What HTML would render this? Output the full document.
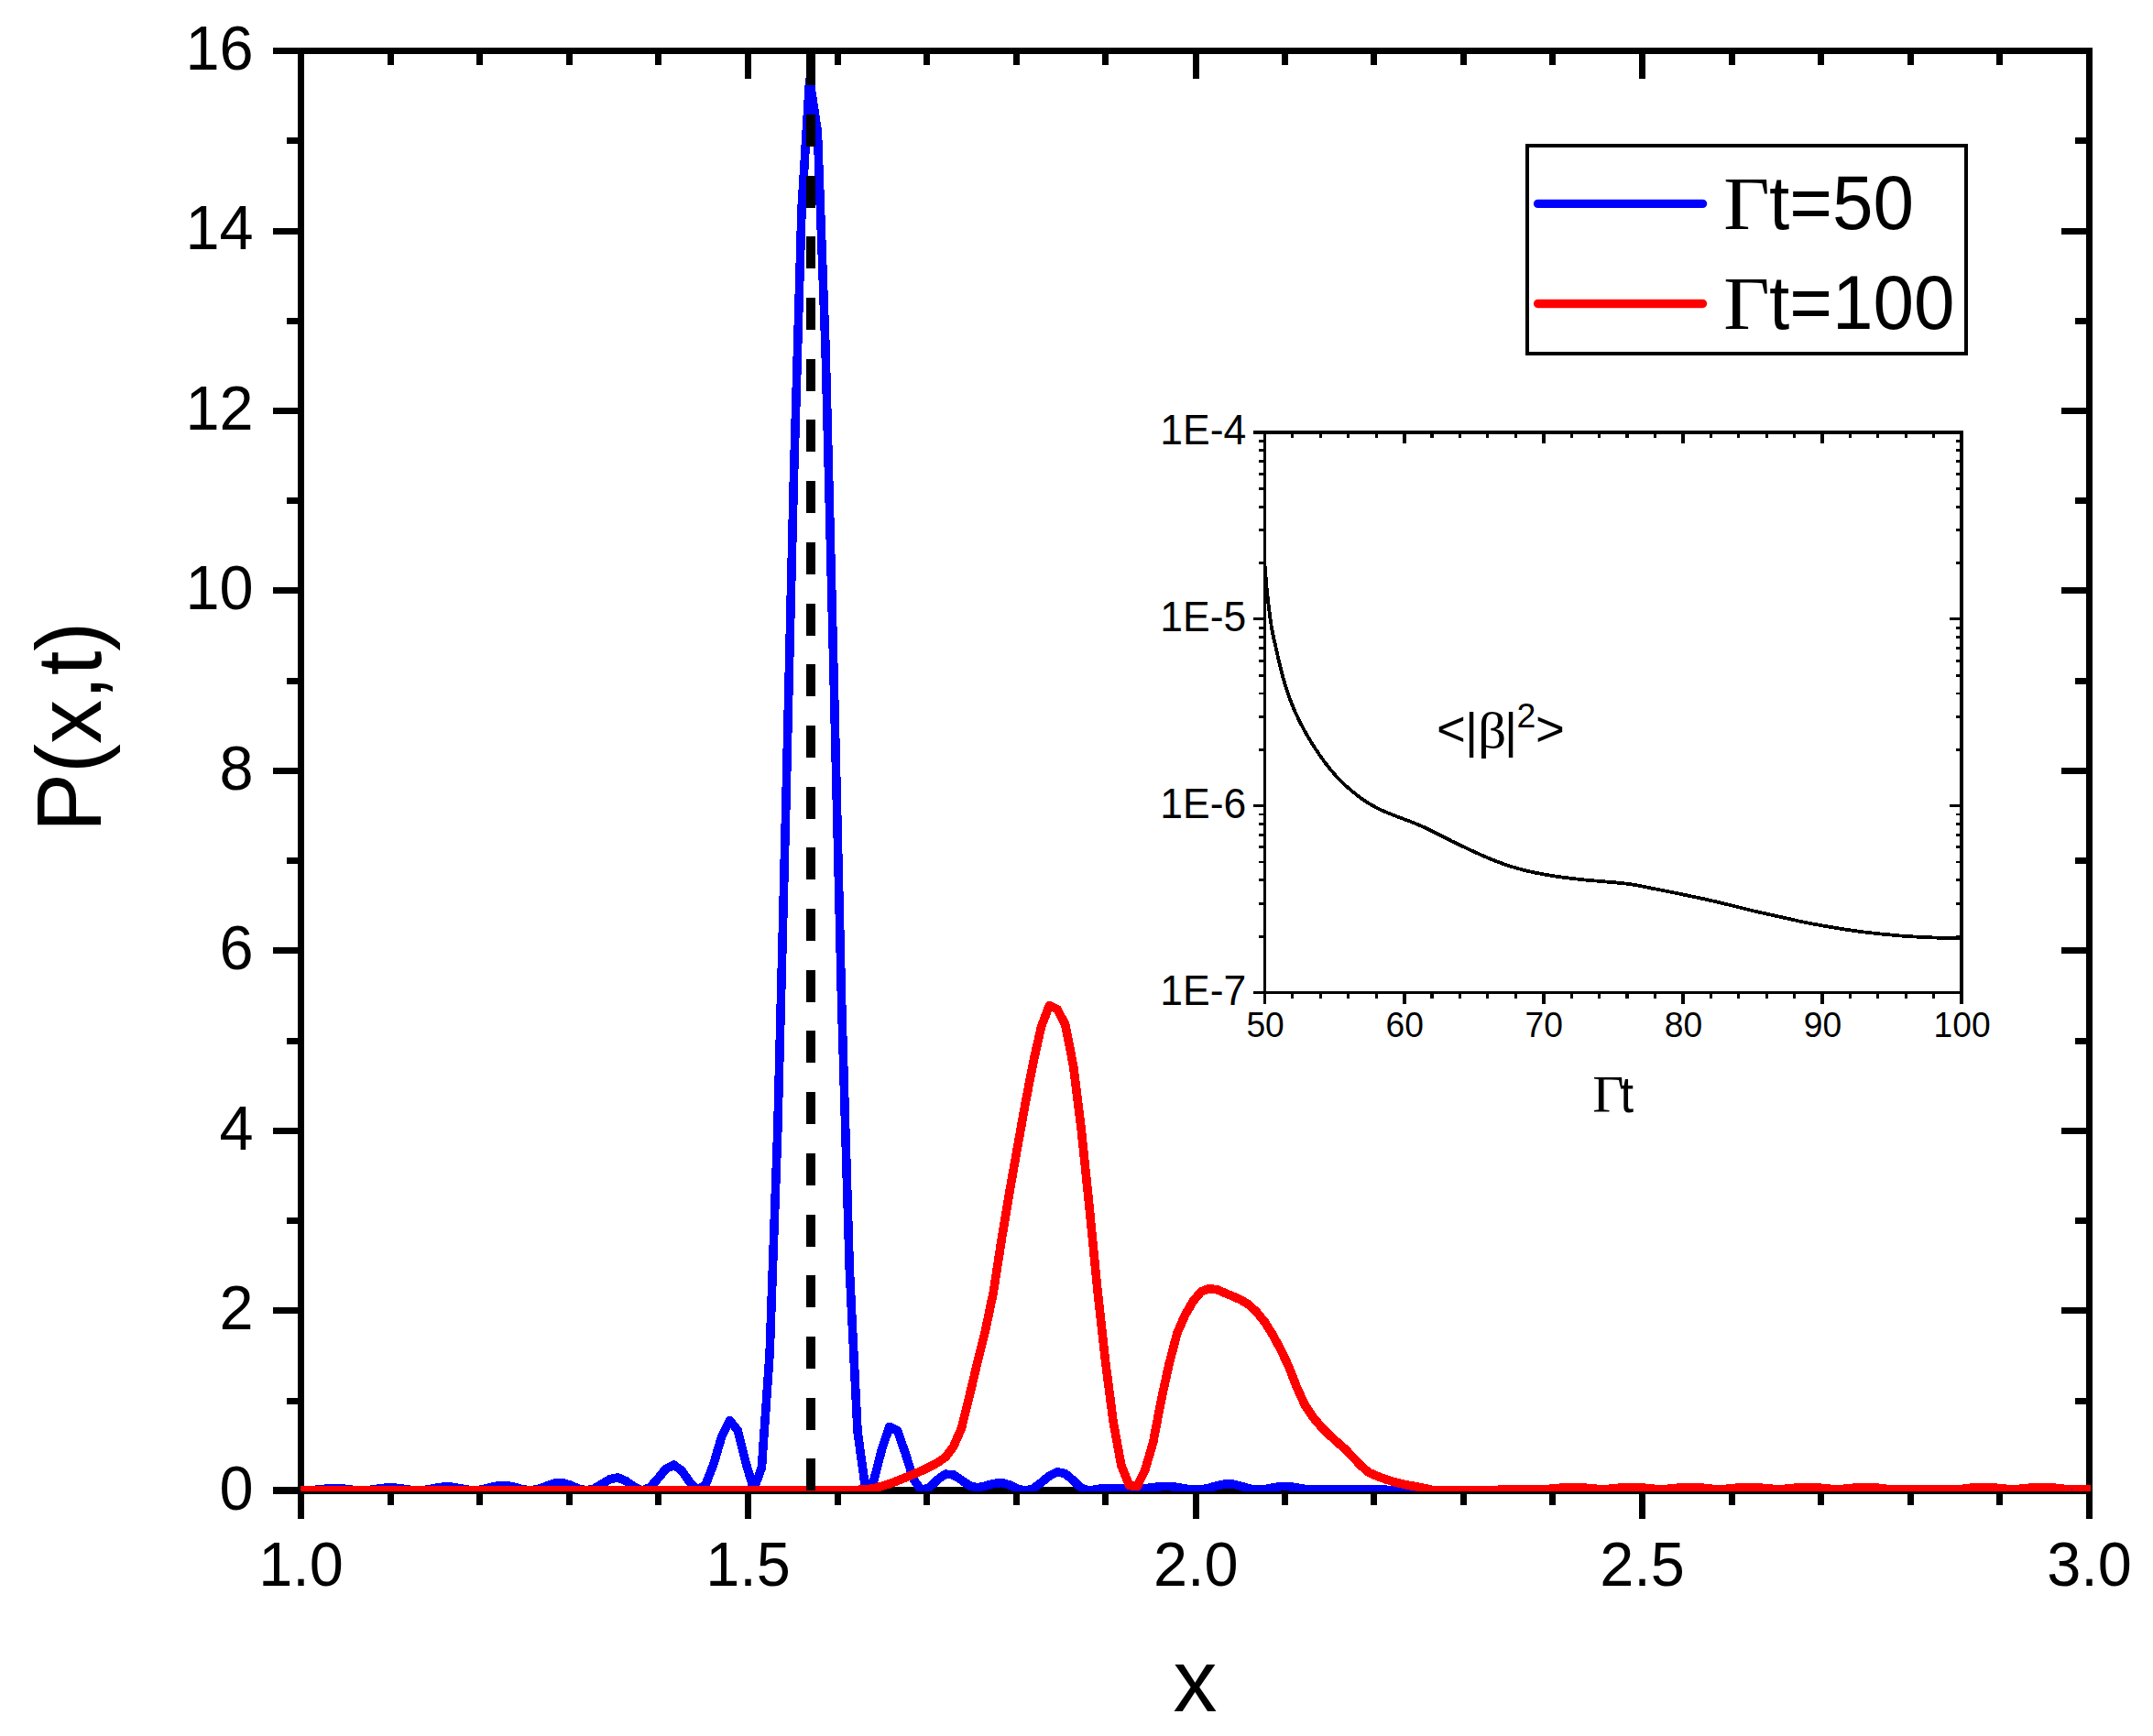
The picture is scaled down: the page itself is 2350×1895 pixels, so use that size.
<!DOCTYPE html>
<html lang="en">
<head>
<meta charset="utf-8">
<title>P(x,t)</title>
<style>
html,body{margin:0;padding:0;background:#fff;}
body{width:2350px;height:1895px;overflow:hidden;}
svg{display:block;}
</style>
</head>
<body>
<svg width="2350" height="1895" viewBox="0 0 2350 1895">
<defs>
<clipPath id="cm"><rect x="328" y="40" width="1954" height="1588.1"/></clipPath>
<clipPath id="ci"><rect x="1380.5" y="472" width="760.5" height="611.5"/></clipPath>
</defs>
<rect x="0" y="0" width="2350" height="1895" fill="#fff"/>
<g shape-rendering="crispEdges">
<rect x="325.00" y="52.20" width="7.00" height="1605.60" fill="#000"/>
<rect x="2277.10" y="52.20" width="6.90" height="1605.60" fill="#000"/>
<rect x="298.00" y="52.20" width="1986.00" height="6.80" fill="#000"/>
<rect x="298.00" y="1623.20" width="1986.00" height="7.80" fill="#000"/>
<rect x="313.00" y="1525.57" width="13.00" height="7.00" fill="#000"/>
<rect x="2265.20" y="1525.57" width="12.80" height="7.00" fill="#000"/>
<rect x="298.00" y="1427.34" width="28.00" height="7.00" fill="#000"/>
<rect x="2250.20" y="1427.34" width="27.80" height="7.00" fill="#000"/>
<rect x="313.00" y="1329.11" width="13.00" height="7.00" fill="#000"/>
<rect x="2265.20" y="1329.11" width="12.80" height="7.00" fill="#000"/>
<rect x="298.00" y="1230.88" width="28.00" height="7.00" fill="#000"/>
<rect x="2250.20" y="1230.88" width="27.80" height="7.00" fill="#000"/>
<rect x="313.00" y="1132.64" width="13.00" height="7.00" fill="#000"/>
<rect x="2265.20" y="1132.64" width="12.80" height="7.00" fill="#000"/>
<rect x="298.00" y="1034.41" width="28.00" height="7.00" fill="#000"/>
<rect x="2250.20" y="1034.41" width="27.80" height="7.00" fill="#000"/>
<rect x="313.00" y="936.18" width="13.00" height="7.00" fill="#000"/>
<rect x="2265.20" y="936.18" width="12.80" height="7.00" fill="#000"/>
<rect x="298.00" y="837.95" width="28.00" height="7.00" fill="#000"/>
<rect x="2250.20" y="837.95" width="27.80" height="7.00" fill="#000"/>
<rect x="313.00" y="739.72" width="13.00" height="7.00" fill="#000"/>
<rect x="2265.20" y="739.72" width="12.80" height="7.00" fill="#000"/>
<rect x="298.00" y="641.49" width="28.00" height="7.00" fill="#000"/>
<rect x="2250.20" y="641.49" width="27.80" height="7.00" fill="#000"/>
<rect x="313.00" y="543.26" width="13.00" height="7.00" fill="#000"/>
<rect x="2265.20" y="543.26" width="12.80" height="7.00" fill="#000"/>
<rect x="298.00" y="445.02" width="28.00" height="7.00" fill="#000"/>
<rect x="2250.20" y="445.02" width="27.80" height="7.00" fill="#000"/>
<rect x="313.00" y="346.79" width="13.00" height="7.00" fill="#000"/>
<rect x="2265.20" y="346.79" width="12.80" height="7.00" fill="#000"/>
<rect x="298.00" y="248.56" width="28.00" height="7.00" fill="#000"/>
<rect x="2250.20" y="248.56" width="27.80" height="7.00" fill="#000"/>
<rect x="313.00" y="150.33" width="13.00" height="7.00" fill="#000"/>
<rect x="2265.20" y="150.33" width="12.80" height="7.00" fill="#000"/>
<rect x="422.60" y="58.00" width="7.00" height="12.50" fill="#000"/>
<rect x="422.60" y="1630.00" width="7.00" height="12.70" fill="#000"/>
<rect x="520.20" y="58.00" width="7.00" height="12.50" fill="#000"/>
<rect x="520.20" y="1630.00" width="7.00" height="12.70" fill="#000"/>
<rect x="617.80" y="58.00" width="7.00" height="12.50" fill="#000"/>
<rect x="617.80" y="1630.00" width="7.00" height="12.70" fill="#000"/>
<rect x="715.40" y="58.00" width="7.00" height="12.50" fill="#000"/>
<rect x="715.40" y="1630.00" width="7.00" height="12.70" fill="#000"/>
<rect x="813.00" y="58.00" width="7.00" height="27.50" fill="#000"/>
<rect x="813.00" y="1630.00" width="7.00" height="27.80" fill="#000"/>
<rect x="910.60" y="58.00" width="7.00" height="12.50" fill="#000"/>
<rect x="910.60" y="1630.00" width="7.00" height="12.70" fill="#000"/>
<rect x="1008.20" y="58.00" width="7.00" height="12.50" fill="#000"/>
<rect x="1008.20" y="1630.00" width="7.00" height="12.70" fill="#000"/>
<rect x="1105.80" y="58.00" width="7.00" height="12.50" fill="#000"/>
<rect x="1105.80" y="1630.00" width="7.00" height="12.70" fill="#000"/>
<rect x="1203.40" y="58.00" width="7.00" height="12.50" fill="#000"/>
<rect x="1203.40" y="1630.00" width="7.00" height="12.70" fill="#000"/>
<rect x="1301.80" y="58.00" width="7.00" height="27.50" fill="#000"/>
<rect x="1301.80" y="1630.00" width="7.00" height="27.80" fill="#000"/>
<rect x="1398.60" y="58.00" width="7.00" height="12.50" fill="#000"/>
<rect x="1398.60" y="1630.00" width="7.00" height="12.70" fill="#000"/>
<rect x="1496.20" y="58.00" width="7.00" height="12.50" fill="#000"/>
<rect x="1496.20" y="1630.00" width="7.00" height="12.70" fill="#000"/>
<rect x="1593.80" y="58.00" width="7.00" height="12.50" fill="#000"/>
<rect x="1593.80" y="1630.00" width="7.00" height="12.70" fill="#000"/>
<rect x="1691.40" y="58.00" width="7.00" height="12.50" fill="#000"/>
<rect x="1691.40" y="1630.00" width="7.00" height="12.70" fill="#000"/>
<rect x="1789.00" y="58.00" width="7.00" height="27.50" fill="#000"/>
<rect x="1789.00" y="1630.00" width="7.00" height="27.80" fill="#000"/>
<rect x="1886.60" y="58.00" width="7.00" height="12.50" fill="#000"/>
<rect x="1886.60" y="1630.00" width="7.00" height="12.70" fill="#000"/>
<rect x="1984.20" y="58.00" width="7.00" height="12.50" fill="#000"/>
<rect x="1984.20" y="1630.00" width="7.00" height="12.70" fill="#000"/>
<rect x="2081.80" y="58.00" width="7.00" height="12.50" fill="#000"/>
<rect x="2081.80" y="1630.00" width="7.00" height="12.70" fill="#000"/>
<rect x="2179.40" y="58.00" width="7.00" height="12.50" fill="#000"/>
<rect x="2179.40" y="1630.00" width="7.00" height="12.70" fill="#000"/>
</g>
<g clip-path="url(#cm)" fill="none" stroke-linejoin="round" shape-rendering="crispEdges">
<polyline points="325.6,1626.6 334.3,1626.9 343.1,1626.4 351.8,1625.5 360.5,1624.7 369.2,1624.6 377.9,1625.4 386.7,1626.5 395.4,1626.9 404.1,1626.3 412.8,1625.1 421.5,1624.1 430.3,1624.0 439.0,1625.0 447.7,1626.3 456.4,1626.9 465.1,1626.2 473.9,1624.6 482.6,1623.2 491.3,1623.0 500.0,1624.3 508.7,1626.0 517.5,1626.9 526.2,1626.0 534.9,1623.8 543.6,1621.7 552.3,1621.4 561.1,1623.1 569.8,1625.6 578.5,1626.9 587.2,1625.7 595.9,1622.4 604.7,1619.3 613.4,1618.6 622.1,1621.0 630.8,1624.8 639.5,1626.9 648.3,1625.1 657.0,1619.9 665.7,1614.6 674.4,1613.0 683.1,1616.6 691.9,1623.0 700.6,1626.9 709.3,1623.9 718.0,1614.2 726.7,1603.5 735.5,1599.2 744.2,1605.3 752.9,1618.1 761.6,1626.7 770.3,1620.5 779.1,1597.5 787.8,1567.9 796.5,1550.7 805.2,1561.3 813.9,1596.2 822.7,1625.8 831.4,1601.9 840.1,1477.8 848.8,1233.3 857.5,892.6 866.3,525.9 875.0,228.7 883.7,87.0 892.4,144.0 901.1,382.1 909.9,730.6 918.6,1093.5 927.3,1385.8 936.0,1562.2 944.7,1625.2 953.5,1617.1 962.2,1583.1 970.9,1557.3 979.6,1561.7 988.3,1586.6 997.1,1614.7 1005.8,1627.3 1014.5,1623.6 1023.2,1615.3 1031.9,1609.1 1040.7,1609.9 1049.4,1615.6 1058.1,1621.8 1066.8,1623.8 1075.5,1622.1 1084.3,1619.5 1093.0,1618.5 1101.7,1620.9 1110.4,1625.1 1119.1,1627.3 1127.9,1624.9 1136.6,1618.3 1145.3,1611.1 1154.0,1606.9 1162.7,1608.6 1171.5,1616.1 1180.2,1624.3 1188.9,1627.3 1197.6,1625.4 1206.3,1624.8 1215.1,1624.8 1223.8,1624.8 1232.5,1624.8 1241.2,1624.8 1249.9,1624.7 1258.7,1623.7 1267.4,1622.6 1276.1,1622.5 1284.8,1623.4 1293.5,1625.0 1302.3,1626.1 1311.0,1626.1 1319.7,1624.3 1328.4,1621.7 1337.1,1619.9 1345.9,1620.1 1354.6,1622.3 1363.3,1624.9 1372.0,1626.3 1380.7,1625.7 1389.5,1623.9 1398.2,1622.6 1406.9,1622.6 1415.6,1623.9 1424.3,1625.4 1433.1,1626.3 1441.8,1626.1 1450.5,1625.7 1459.2,1625.6 1467.9,1625.6 1476.7,1625.6 1485.4,1625.6 1494.1,1625.7 1502.8,1625.8 1511.5,1626.2 1520.3,1626.6 1529.0,1627.0 1537.7,1627.2 1546.4,1627.3 1555.1,1627.3 1563.9,1627.3 1572.6,1627.3 1581.3,1627.3 1590.0,1627.3 1598.7,1627.3 1607.5,1627.3 1616.2,1627.3 1624.9,1627.3 1633.6,1627.3 1642.3,1627.3 1651.1,1627.3 1659.8,1627.3 1668.5,1627.3 1677.2,1627.3 1685.9,1627.3 1694.7,1627.3 1703.4,1627.3 1712.1,1627.3 1720.8,1627.3 1729.5,1627.3 1738.3,1627.3 1747.0,1627.3 1755.7,1627.3 1764.4,1627.3 1773.1,1627.3 1781.9,1627.3 1790.6,1627.3 1799.3,1627.3 1808.0,1627.3 1816.7,1627.3 1825.5,1627.3 1834.2,1627.3 1842.9,1627.3 1851.6,1627.3 1860.3,1627.3 1869.1,1627.3 1877.8,1627.3 1886.5,1627.3 1895.2,1627.3 1903.9,1627.3 1912.7,1627.3 1921.4,1627.3 1930.1,1627.3 1938.8,1627.3 1947.5,1627.3 1956.3,1627.3 1965.0,1627.3 1973.7,1627.3 1982.4,1627.3 1991.1,1627.3 1999.9,1627.3 2008.6,1627.3 2017.3,1627.3 2026.0,1627.3 2034.7,1627.3 2043.5,1627.3 2052.2,1627.3 2060.9,1627.3 2069.6,1627.3 2078.3,1627.3 2087.1,1627.3 2095.8,1627.3 2104.5,1627.3 2113.2,1627.3 2121.9,1627.3 2130.7,1627.3 2139.4,1627.3 2148.1,1627.3 2156.8,1627.3 2165.5,1627.3 2174.3,1627.3 2183.0,1627.3 2191.7,1627.3 2200.4,1627.3 2209.1,1627.3 2217.9,1627.3 2226.6,1627.3 2235.3,1627.3 2244.0,1627.3 2252.7,1627.3 2261.5,1627.3 2270.2,1627.3 2278.9,1627.3 2287.6,1627.3" stroke="#0000ff" stroke-width="9.6"/>
<polyline points="325.6,1626.5 334.3,1626.5 343.1,1626.5 351.8,1626.5 360.5,1626.5 369.2,1626.5 377.9,1626.5 386.7,1626.5 395.4,1626.5 404.1,1626.5 412.8,1626.5 421.5,1626.5 430.3,1626.5 439.0,1626.5 447.7,1626.5 456.4,1626.5 465.1,1626.5 473.9,1626.5 482.6,1626.5 491.3,1626.5 500.0,1626.5 508.7,1626.5 517.5,1626.5 526.2,1626.5 534.9,1626.5 543.6,1626.5 552.3,1626.5 561.1,1626.5 569.8,1626.5 578.5,1626.5 587.2,1626.5 595.9,1626.5 604.7,1626.5 613.4,1626.5 622.1,1626.5 630.8,1626.5 639.5,1626.5 648.3,1626.5 657.0,1626.5 665.7,1626.5 674.4,1626.5 683.1,1626.5 691.9,1626.5 700.6,1626.5 709.3,1626.5 718.0,1626.5 726.7,1626.5 735.5,1626.5 744.2,1626.5 752.9,1626.5 761.6,1626.5 770.3,1626.5 779.1,1626.5 787.8,1626.5 796.5,1626.5 805.2,1626.5 813.9,1626.5 822.7,1626.5 831.4,1626.5 840.1,1626.5 848.8,1626.5 857.5,1626.5 866.3,1626.5 875.0,1626.5 883.7,1626.5 892.4,1626.5 901.1,1626.5 909.9,1626.5 918.6,1626.5 927.3,1626.5 936.0,1626.4 944.7,1625.8 953.5,1624.8 962.2,1622.4 970.9,1619.7 979.6,1616.4 988.3,1612.9 997.1,1609.3 1005.8,1605.5 1014.5,1601.4 1023.2,1596.7 1031.9,1590.7 1040.7,1579.0 1049.4,1559.2 1058.1,1524.1 1066.8,1487.3 1075.5,1452.5 1084.3,1410.5 1093.0,1354.4 1101.7,1302.3 1110.4,1253.2 1119.1,1204.6 1127.9,1159.2 1136.6,1120.5 1145.3,1097.7 1154.0,1101.6 1162.7,1118.2 1171.5,1163.1 1180.2,1232.5 1188.9,1316.2 1197.6,1405.1 1206.3,1484.0 1215.1,1551.9 1223.8,1599.6 1232.5,1621.4 1241.2,1622.6 1249.9,1604.4 1258.7,1574.4 1267.4,1528.5 1276.1,1488.8 1284.8,1455.6 1293.5,1435.4 1302.3,1420.4 1311.0,1409.9 1319.7,1406.7 1328.4,1407.8 1337.1,1411.5 1345.9,1415.1 1354.6,1419.0 1363.3,1424.4 1372.0,1432.6 1380.7,1443.4 1389.5,1457.6 1398.2,1473.8 1406.9,1492.3 1415.6,1514.7 1424.3,1533.7 1433.1,1547.0 1441.8,1557.2 1450.5,1566.0 1459.2,1573.9 1467.9,1581.6 1476.7,1590.6 1485.4,1599.9 1494.1,1607.3 1502.8,1611.2 1511.5,1614.5 1520.3,1617.3 1529.0,1619.5 1537.7,1621.3 1546.4,1622.9 1555.1,1624.7 1563.9,1626.5 1572.6,1626.5 1581.3,1626.5 1590.0,1626.5 1598.7,1626.5 1607.5,1626.5 1616.2,1626.5 1624.9,1626.5 1633.6,1626.4 1642.3,1625.9 1651.1,1625.6 1659.8,1625.6 1668.5,1625.6 1677.2,1625.6 1685.9,1625.6 1694.7,1625.1 1703.4,1624.2 1712.1,1623.4 1720.8,1623.4 1729.5,1624.1 1738.3,1625.0 1747.0,1625.6 1755.7,1625.4 1764.4,1624.5 1773.1,1623.6 1781.9,1623.3 1790.6,1623.8 1799.3,1624.7 1808.0,1625.5 1816.7,1625.6 1825.5,1624.9 1834.2,1623.9 1842.9,1623.3 1851.6,1623.5 1860.3,1624.4 1869.1,1625.3 1877.8,1625.6 1886.5,1625.2 1895.2,1624.2 1903.9,1623.4 1912.7,1623.3 1921.4,1624.0 1930.1,1625.0 1938.8,1625.6 1947.5,1625.4 1956.3,1624.5 1965.0,1623.6 1973.7,1623.3 1982.4,1623.7 1991.1,1624.7 1999.9,1625.5 2008.6,1625.6 2017.3,1624.9 2026.0,1623.9 2034.7,1623.3 2043.5,1623.5 2052.2,1624.4 2060.9,1625.6 2069.6,1625.6 2078.3,1625.6 2087.1,1625.6 2095.8,1625.6 2104.5,1625.6 2113.2,1625.6 2121.9,1625.6 2130.7,1625.6 2139.4,1625.6 2148.1,1624.6 2156.8,1623.6 2165.5,1623.3 2174.3,1623.7 2183.0,1624.7 2191.7,1625.5 2200.4,1625.6 2209.1,1624.9 2217.9,1623.9 2226.6,1623.3 2235.3,1623.5 2244.0,1624.3 2252.7,1625.3 2261.5,1625.6 2270.2,1625.6 2278.9,1625.6 2287.6,1625.6" stroke="#ff0000" stroke-width="9.6"/>
</g>
<line x1="885.1" y1="1627.3" x2="885.1" y2="55.6" stroke="#000" stroke-width="9.9" stroke-dasharray="35 31.7" shape-rendering="crispEdges"/>
<g font-family="'Liberation Sans', Arial, sans-serif" font-size="66.67" fill="#000">
<text transform="translate(276.60,1647.50) scale(1.0,1.04)" text-anchor="end" font-family="'Liberation Sans', Arial, sans-serif" font-size="66.67" fill="#000">0</text>
<text transform="translate(276.60,1451.04) scale(1.0,1.04)" text-anchor="end" font-family="'Liberation Sans', Arial, sans-serif" font-size="66.67" fill="#000">2</text>
<text transform="translate(276.60,1254.58) scale(1.0,1.04)" text-anchor="end" font-family="'Liberation Sans', Arial, sans-serif" font-size="66.67" fill="#000">4</text>
<text transform="translate(276.60,1058.11) scale(1.0,1.04)" text-anchor="end" font-family="'Liberation Sans', Arial, sans-serif" font-size="66.67" fill="#000">6</text>
<text transform="translate(276.60,861.65) scale(1.0,1.04)" text-anchor="end" font-family="'Liberation Sans', Arial, sans-serif" font-size="66.67" fill="#000">8</text>
<text transform="translate(276.60,665.19) scale(1.0,1.04)" text-anchor="end" font-family="'Liberation Sans', Arial, sans-serif" font-size="66.67" fill="#000">10</text>
<text transform="translate(276.60,468.72) scale(1.0,1.04)" text-anchor="end" font-family="'Liberation Sans', Arial, sans-serif" font-size="66.67" fill="#000">12</text>
<text transform="translate(276.60,272.26) scale(1.0,1.04)" text-anchor="end" font-family="'Liberation Sans', Arial, sans-serif" font-size="66.67" fill="#000">14</text>
<text transform="translate(276.60,75.80) scale(1.0,1.04)" text-anchor="end" font-family="'Liberation Sans', Arial, sans-serif" font-size="66.67" fill="#000">16</text>
<text transform="translate(328.50,1730.60) scale(1.0,1.04)" text-anchor="middle" font-family="'Liberation Sans', Arial, sans-serif" font-size="66.67" fill="#000">1.0</text>
<text transform="translate(816.50,1730.60) scale(1.0,1.04)" text-anchor="middle" font-family="'Liberation Sans', Arial, sans-serif" font-size="66.67" fill="#000">1.5</text>
<text transform="translate(1305.30,1730.60) scale(1.0,1.04)" text-anchor="middle" font-family="'Liberation Sans', Arial, sans-serif" font-size="66.67" fill="#000">2.0</text>
<text transform="translate(1792.50,1730.60) scale(1.0,1.04)" text-anchor="middle" font-family="'Liberation Sans', Arial, sans-serif" font-size="66.67" fill="#000">2.5</text>
<text transform="translate(2280.50,1730.60) scale(1.0,1.04)" text-anchor="middle" font-family="'Liberation Sans', Arial, sans-serif" font-size="66.67" fill="#000">3.0</text>
</g>
<text x="1304.6" y="1868" text-anchor="middle" font-family="'Liberation Sans', Arial, sans-serif" font-size="96" fill="#000">x</text>
<text transform="translate(110,908) rotate(-90) scale(1,1.04)" font-family="'Liberation Sans', Arial, sans-serif" font-size="96" fill="#000">P(x,t)</text>
<rect x="1667" y="158.7" width="479.3" height="227.5" fill="#fff" stroke="#000" stroke-width="3.7" shape-rendering="crispEdges"/>
<line x1="1678.6" y1="222.4" x2="1858.5" y2="222.4" stroke="#0000ff" stroke-width="9.4" stroke-linecap="round"/>
<line x1="1678.6" y1="331.5" x2="1858.5" y2="331.5" stroke="#ff0000" stroke-width="9.4" stroke-linecap="round"/>
<text transform="translate(1881.3,250.4) scale(1,1.04)" font-size="80" fill="#000" font-family="'Liberation Sans', Arial, sans-serif"><tspan x="0" font-family="'Liberation Serif', 'Times New Roman', serif" textLength="50.4" lengthAdjust="spacingAndGlyphs">Γ</tspan><tspan x="49.7">t=50</tspan></text>
<text transform="translate(1881.3,358.9) scale(1,1.04)" font-size="80" fill="#000" font-family="'Liberation Sans', Arial, sans-serif"><tspan x="0" font-family="'Liberation Serif', 'Times New Roman', serif" textLength="50.4" lengthAdjust="spacingAndGlyphs">Γ</tspan><tspan x="49.7">t=100</tspan></text>
<g shape-rendering="crispEdges">
<rect x="1379.00" y="470.30" width="3.10" height="625.50" fill="#000"/>
<rect x="2139.30" y="470.30" width="3.40" height="625.50" fill="#000"/>
<rect x="1367.90" y="470.30" width="774.80" height="3.40" fill="#000"/>
<rect x="1367.90" y="1081.90" width="774.80" height="3.20" fill="#000"/>
<rect x="1374.10" y="613.02" width="5.90" height="2.90" fill="#000"/>
<rect x="2134.60" y="613.02" width="5.40" height="2.90" fill="#000"/>
<rect x="1374.10" y="577.13" width="5.90" height="2.90" fill="#000"/>
<rect x="2134.60" y="577.13" width="5.40" height="2.90" fill="#000"/>
<rect x="1374.10" y="551.66" width="5.90" height="2.90" fill="#000"/>
<rect x="2134.60" y="551.66" width="5.40" height="2.90" fill="#000"/>
<rect x="1374.10" y="531.91" width="5.90" height="2.90" fill="#000"/>
<rect x="2134.60" y="531.91" width="5.40" height="2.90" fill="#000"/>
<rect x="1374.10" y="515.77" width="5.90" height="2.90" fill="#000"/>
<rect x="2134.60" y="515.77" width="5.40" height="2.90" fill="#000"/>
<rect x="1374.10" y="502.12" width="5.90" height="2.90" fill="#000"/>
<rect x="2134.60" y="502.12" width="5.40" height="2.90" fill="#000"/>
<rect x="1374.10" y="490.30" width="5.90" height="2.90" fill="#000"/>
<rect x="2134.60" y="490.30" width="5.40" height="2.90" fill="#000"/>
<rect x="1374.10" y="479.88" width="5.90" height="2.90" fill="#000"/>
<rect x="2134.60" y="479.88" width="5.40" height="2.90" fill="#000"/>
<rect x="1367.90" y="674.23" width="12.10" height="3.20" fill="#000"/>
<rect x="2128.00" y="674.23" width="12.00" height="3.20" fill="#000"/>
<rect x="1374.10" y="816.86" width="5.90" height="2.90" fill="#000"/>
<rect x="2134.60" y="816.86" width="5.40" height="2.90" fill="#000"/>
<rect x="1374.10" y="780.96" width="5.90" height="2.90" fill="#000"/>
<rect x="2134.60" y="780.96" width="5.40" height="2.90" fill="#000"/>
<rect x="1374.10" y="755.50" width="5.90" height="2.90" fill="#000"/>
<rect x="2134.60" y="755.50" width="5.40" height="2.90" fill="#000"/>
<rect x="1374.10" y="735.74" width="5.90" height="2.90" fill="#000"/>
<rect x="2134.60" y="735.74" width="5.40" height="2.90" fill="#000"/>
<rect x="1374.10" y="719.60" width="5.90" height="2.90" fill="#000"/>
<rect x="2134.60" y="719.60" width="5.40" height="2.90" fill="#000"/>
<rect x="1374.10" y="705.96" width="5.90" height="2.90" fill="#000"/>
<rect x="2134.60" y="705.96" width="5.40" height="2.90" fill="#000"/>
<rect x="1374.10" y="694.14" width="5.90" height="2.90" fill="#000"/>
<rect x="2134.60" y="694.14" width="5.40" height="2.90" fill="#000"/>
<rect x="1374.10" y="683.71" width="5.90" height="2.90" fill="#000"/>
<rect x="2134.60" y="683.71" width="5.40" height="2.90" fill="#000"/>
<rect x="1367.90" y="878.07" width="12.10" height="3.20" fill="#000"/>
<rect x="2128.00" y="878.07" width="12.00" height="3.20" fill="#000"/>
<rect x="1374.10" y="1020.69" width="5.90" height="2.90" fill="#000"/>
<rect x="2134.60" y="1020.69" width="5.40" height="2.90" fill="#000"/>
<rect x="1374.10" y="984.80" width="5.90" height="2.90" fill="#000"/>
<rect x="2134.60" y="984.80" width="5.40" height="2.90" fill="#000"/>
<rect x="1374.10" y="959.33" width="5.90" height="2.90" fill="#000"/>
<rect x="2134.60" y="959.33" width="5.40" height="2.90" fill="#000"/>
<rect x="1374.10" y="939.58" width="5.90" height="2.90" fill="#000"/>
<rect x="2134.60" y="939.58" width="5.40" height="2.90" fill="#000"/>
<rect x="1374.10" y="923.44" width="5.90" height="2.90" fill="#000"/>
<rect x="2134.60" y="923.44" width="5.40" height="2.90" fill="#000"/>
<rect x="1374.10" y="909.79" width="5.90" height="2.90" fill="#000"/>
<rect x="2134.60" y="909.79" width="5.40" height="2.90" fill="#000"/>
<rect x="1374.10" y="897.97" width="5.90" height="2.90" fill="#000"/>
<rect x="2134.60" y="897.97" width="5.40" height="2.90" fill="#000"/>
<rect x="1374.10" y="887.54" width="5.90" height="2.90" fill="#000"/>
<rect x="2134.60" y="887.54" width="5.40" height="2.90" fill="#000"/>
<rect x="1409.37" y="473.00" width="3.10" height="4.90" fill="#000"/>
<rect x="1409.37" y="1084.50" width="3.10" height="5.40" fill="#000"/>
<rect x="1439.79" y="473.00" width="3.10" height="4.90" fill="#000"/>
<rect x="1439.79" y="1084.50" width="3.10" height="5.40" fill="#000"/>
<rect x="1470.21" y="473.00" width="3.10" height="4.90" fill="#000"/>
<rect x="1470.21" y="1084.50" width="3.10" height="5.40" fill="#000"/>
<rect x="1500.63" y="473.00" width="3.10" height="4.90" fill="#000"/>
<rect x="1500.63" y="1084.50" width="3.10" height="5.40" fill="#000"/>
<rect x="1530.70" y="473.00" width="3.80" height="10.90" fill="#000"/>
<rect x="1530.70" y="1084.50" width="3.80" height="11.30" fill="#000"/>
<rect x="1561.47" y="473.00" width="3.10" height="4.90" fill="#000"/>
<rect x="1561.47" y="1084.50" width="3.10" height="5.40" fill="#000"/>
<rect x="1591.89" y="473.00" width="3.10" height="4.90" fill="#000"/>
<rect x="1591.89" y="1084.50" width="3.10" height="5.40" fill="#000"/>
<rect x="1622.31" y="473.00" width="3.10" height="4.90" fill="#000"/>
<rect x="1622.31" y="1084.50" width="3.10" height="5.40" fill="#000"/>
<rect x="1652.73" y="473.00" width="3.10" height="4.90" fill="#000"/>
<rect x="1652.73" y="1084.50" width="3.10" height="5.40" fill="#000"/>
<rect x="1682.80" y="473.00" width="3.80" height="10.90" fill="#000"/>
<rect x="1682.80" y="1084.50" width="3.80" height="11.30" fill="#000"/>
<rect x="1713.57" y="473.00" width="3.10" height="4.90" fill="#000"/>
<rect x="1713.57" y="1084.50" width="3.10" height="5.40" fill="#000"/>
<rect x="1743.99" y="473.00" width="3.10" height="4.90" fill="#000"/>
<rect x="1743.99" y="1084.50" width="3.10" height="5.40" fill="#000"/>
<rect x="1774.41" y="473.00" width="3.10" height="4.90" fill="#000"/>
<rect x="1774.41" y="1084.50" width="3.10" height="5.40" fill="#000"/>
<rect x="1804.83" y="473.00" width="3.10" height="4.90" fill="#000"/>
<rect x="1804.83" y="1084.50" width="3.10" height="5.40" fill="#000"/>
<rect x="1834.90" y="473.00" width="3.80" height="10.90" fill="#000"/>
<rect x="1834.90" y="1084.50" width="3.80" height="11.30" fill="#000"/>
<rect x="1865.67" y="473.00" width="3.10" height="4.90" fill="#000"/>
<rect x="1865.67" y="1084.50" width="3.10" height="5.40" fill="#000"/>
<rect x="1896.09" y="473.00" width="3.10" height="4.90" fill="#000"/>
<rect x="1896.09" y="1084.50" width="3.10" height="5.40" fill="#000"/>
<rect x="1926.51" y="473.00" width="3.10" height="4.90" fill="#000"/>
<rect x="1926.51" y="1084.50" width="3.10" height="5.40" fill="#000"/>
<rect x="1956.93" y="473.00" width="3.10" height="4.90" fill="#000"/>
<rect x="1956.93" y="1084.50" width="3.10" height="5.40" fill="#000"/>
<rect x="1987.00" y="473.00" width="3.80" height="10.90" fill="#000"/>
<rect x="1987.00" y="1084.50" width="3.80" height="11.30" fill="#000"/>
<rect x="2017.77" y="473.00" width="3.10" height="4.90" fill="#000"/>
<rect x="2017.77" y="1084.50" width="3.10" height="5.40" fill="#000"/>
<rect x="2048.19" y="473.00" width="3.10" height="4.90" fill="#000"/>
<rect x="2048.19" y="1084.50" width="3.10" height="5.40" fill="#000"/>
<rect x="2078.61" y="473.00" width="3.10" height="4.90" fill="#000"/>
<rect x="2078.61" y="1084.50" width="3.10" height="5.40" fill="#000"/>
<rect x="2109.03" y="473.00" width="3.10" height="4.90" fill="#000"/>
<rect x="2109.03" y="1084.50" width="3.10" height="5.40" fill="#000"/>
</g>
<polyline points="1380.5,617.0 1382.4,639.9 1384.3,657.7 1386.2,673.1 1388.1,686.0 1390.0,695.7 1391.9,703.8 1393.8,712.1 1395.7,720.7 1397.7,729.0 1399.6,736.5 1401.5,743.3 1403.4,749.6 1405.3,755.5 1407.2,760.9 1409.1,766.0 1411.0,770.8 1412.9,775.3 1414.8,779.6 1416.7,783.7 1418.6,787.6 1420.5,791.3 1422.4,794.8 1424.3,798.3 1426.2,801.7 1428.2,805.1 1430.1,808.3 1432.0,811.4 1433.9,814.4 1435.8,817.4 1437.7,820.2 1439.6,823.1 1441.5,825.8 1443.4,828.5 1445.3,831.1 1447.2,833.6 1449.1,836.0 1451.0,838.4 1452.9,840.8 1454.8,843.1 1456.7,845.3 1458.6,847.4 1460.6,849.5 1462.5,851.5 1464.4,853.4 1466.3,855.2 1468.2,857.0 1470.1,858.7 1472.0,860.4 1473.9,862.0 1475.8,863.6 1477.7,865.2 1479.6,866.7 1481.5,868.2 1483.4,869.7 1485.3,871.1 1487.2,872.5 1489.1,873.8 1491.0,875.0 1493.0,876.2 1494.9,877.4 1496.8,878.6 1498.7,879.7 1500.6,880.7 1502.5,881.7 1504.4,882.7 1506.3,883.6 1508.2,884.5 1510.1,885.3 1512.0,886.2 1513.9,887.0 1515.8,887.8 1517.7,888.5 1519.6,889.3 1521.5,890.1 1523.5,890.8 1525.4,891.6 1527.3,892.3 1529.2,893.0 1531.1,893.7 1533.0,894.4 1534.9,895.1 1536.8,895.8 1538.7,896.5 1540.6,897.2 1542.5,898.0 1544.4,898.8 1546.3,899.6 1548.2,900.4 1550.1,901.2 1552.0,902.0 1553.9,902.8 1555.9,903.7 1557.8,904.6 1559.7,905.5 1561.6,906.5 1563.5,907.5 1565.4,908.4 1567.3,909.4 1569.2,910.4 1571.1,911.3 1573.0,912.3 1574.9,913.3 1576.8,914.2 1578.7,915.2 1580.6,916.1 1582.5,917.1 1584.4,918.1 1586.3,919.0 1588.3,920.0 1590.2,920.9 1592.1,921.8 1594.0,922.7 1595.9,923.6 1597.8,924.5 1599.7,925.4 1601.6,926.3 1603.5,927.2 1605.4,928.1 1607.3,929.0 1609.2,929.8 1611.1,930.7 1613.0,931.6 1614.9,932.4 1616.8,933.3 1618.8,934.2 1620.7,935.0 1622.6,935.9 1624.5,936.7 1626.4,937.5 1628.3,938.3 1630.2,939.0 1632.1,939.8 1634.0,940.5 1635.9,941.2 1637.8,941.9 1639.7,942.6 1641.6,943.3 1643.5,943.9 1645.4,944.6 1647.3,945.2 1649.2,945.8 1651.2,946.4 1653.1,946.9 1655.0,947.5 1656.9,948.1 1658.8,948.6 1660.7,949.1 1662.6,949.6 1664.5,950.1 1666.4,950.6 1668.3,951.0 1670.2,951.4 1672.1,951.9 1674.0,952.3 1675.9,952.7 1677.8,953.0 1679.7,953.4 1681.7,953.8 1683.6,954.1 1685.5,954.5 1687.4,954.8 1689.3,955.1 1691.2,955.5 1693.1,955.8 1695.0,956.1 1696.9,956.4 1698.8,956.7 1700.7,956.9 1702.6,957.2 1704.5,957.5 1706.4,957.7 1708.3,958.0 1710.2,958.2 1712.1,958.5 1714.1,958.7 1716.0,958.9 1717.9,959.1 1719.8,959.4 1721.7,959.6 1723.6,959.8 1725.5,960.0 1727.4,960.2 1729.3,960.4 1731.2,960.6 1733.1,960.8 1735.0,961.0 1736.9,961.1 1738.8,961.3 1740.7,961.5 1742.6,961.6 1744.5,961.8 1746.5,961.9 1748.4,962.1 1750.3,962.2 1752.2,962.4 1754.1,962.6 1756.0,962.7 1757.9,962.9 1759.8,963.1 1761.7,963.2 1763.6,963.4 1765.5,963.6 1767.4,963.8 1769.3,964.0 1771.2,964.2 1773.1,964.4 1775.0,964.6 1777.0,964.9 1778.9,965.1 1780.8,965.4 1782.7,965.7 1784.6,966.0 1786.5,966.4 1788.4,966.7 1790.3,967.1 1792.2,967.5 1794.1,967.8 1796.0,968.2 1797.9,968.6 1799.8,969.0 1801.7,969.4 1803.6,969.8 1805.5,970.2 1807.4,970.5 1809.4,970.9 1811.3,971.3 1813.2,971.7 1815.1,972.0 1817.0,972.4 1818.9,972.8 1820.8,973.2 1822.7,973.6 1824.6,974.0 1826.5,974.3 1828.4,974.7 1830.3,975.1 1832.2,975.5 1834.1,975.9 1836.0,976.3 1837.9,976.7 1839.8,977.1 1841.8,977.5 1843.7,977.9 1845.6,978.3 1847.5,978.7 1849.4,979.1 1851.3,979.5 1853.2,979.9 1855.1,980.3 1857.0,980.7 1858.9,981.1 1860.8,981.5 1862.7,982.0 1864.6,982.4 1866.5,982.8 1868.4,983.3 1870.3,983.7 1872.3,984.1 1874.2,984.6 1876.1,985.0 1878.0,985.5 1879.9,985.9 1881.8,986.4 1883.7,986.9 1885.6,987.3 1887.5,987.8 1889.4,988.2 1891.3,988.7 1893.2,989.2 1895.1,989.6 1897.0,990.1 1898.9,990.6 1900.8,991.1 1902.7,991.5 1904.7,992.0 1906.6,992.5 1908.5,993.0 1910.4,993.5 1912.3,993.9 1914.2,994.4 1916.1,994.8 1918.0,995.3 1919.9,995.7 1921.8,996.2 1923.7,996.6 1925.6,997.0 1927.5,997.4 1929.4,997.9 1931.3,998.3 1933.2,998.7 1935.2,999.1 1937.1,999.5 1939.0,1000.0 1940.9,1000.4 1942.8,1000.8 1944.7,1001.2 1946.6,1001.6 1948.5,1002.1 1950.4,1002.5 1952.3,1002.9 1954.2,1003.3 1956.1,1003.8 1958.0,1004.2 1959.9,1004.6 1961.8,1005.1 1963.7,1005.5 1965.6,1005.9 1967.6,1006.3 1969.5,1006.7 1971.4,1007.1 1973.3,1007.5 1975.2,1007.8 1977.1,1008.2 1979.0,1008.6 1980.9,1008.9 1982.8,1009.3 1984.7,1009.6 1986.6,1010.0 1988.5,1010.3 1990.4,1010.6 1992.3,1011.0 1994.2,1011.3 1996.1,1011.6 1998.0,1011.9 2000.0,1012.3 2001.9,1012.6 2003.8,1012.9 2005.7,1013.2 2007.6,1013.5 2009.5,1013.8 2011.4,1014.1 2013.3,1014.4 2015.2,1014.7 2017.1,1015.0 2019.0,1015.3 2020.9,1015.6 2022.8,1015.9 2024.7,1016.2 2026.6,1016.4 2028.5,1016.7 2030.5,1016.9 2032.4,1017.2 2034.3,1017.4 2036.2,1017.6 2038.1,1017.8 2040.0,1018.1 2041.9,1018.3 2043.8,1018.5 2045.7,1018.7 2047.6,1018.9 2049.5,1019.1 2051.4,1019.3 2053.3,1019.5 2055.2,1019.7 2057.1,1019.9 2059.0,1020.0 2060.9,1020.2 2062.9,1020.4 2064.8,1020.6 2066.7,1020.8 2068.6,1021.0 2070.5,1021.1 2072.4,1021.3 2074.3,1021.5 2076.2,1021.6 2078.1,1021.8 2080.0,1021.9 2081.9,1022.0 2083.8,1022.2 2085.7,1022.3 2087.6,1022.4 2089.5,1022.5 2091.4,1022.6 2093.3,1022.7 2095.3,1022.8 2097.2,1022.9 2099.1,1023.0 2101.0,1023.0 2102.9,1023.1 2104.8,1023.2 2106.7,1023.3 2108.6,1023.4 2110.5,1023.4 2112.4,1023.5 2114.3,1023.6 2116.2,1023.7 2118.1,1023.7 2120.0,1023.8 2121.9,1023.9 2123.8,1023.9 2125.8,1024.0 2127.7,1024.1 2129.6,1024.1 2131.5,1024.2 2133.4,1024.2 2135.3,1024.3 2137.2,1024.4 2139.1,1024.4 2141.0,1024.5" fill="none" stroke="#000" stroke-width="3.8" stroke-linejoin="round" shape-rendering="crispEdges" clip-path="url(#ci)"/>
<g font-family="'Liberation Sans', Arial, sans-serif" fill="#000">
<text transform="translate(1360.30,485.10) scale(1.0,1.04)" text-anchor="end" font-family="'Liberation Sans', Arial, sans-serif" font-size="44.5" fill="#000">1E-4</text>
<text transform="translate(1360.30,688.93) scale(1.0,1.04)" text-anchor="end" font-family="'Liberation Sans', Arial, sans-serif" font-size="44.5" fill="#000">1E-5</text>
<text transform="translate(1360.30,892.77) scale(1.0,1.04)" text-anchor="end" font-family="'Liberation Sans', Arial, sans-serif" font-size="44.5" fill="#000">1E-6</text>
<text transform="translate(1360.30,1096.60) scale(1.0,1.04)" text-anchor="end" font-family="'Liberation Sans', Arial, sans-serif" font-size="44.5" fill="#000">1E-7</text>
<text transform="translate(1381.10,1132.40) scale(1.0,1.04)" text-anchor="middle" font-family="'Liberation Sans', Arial, sans-serif" font-size="37.2" fill="#000">50</text>
<text transform="translate(1533.20,1132.40) scale(1.0,1.04)" text-anchor="middle" font-family="'Liberation Sans', Arial, sans-serif" font-size="37.2" fill="#000">60</text>
<text transform="translate(1685.30,1132.40) scale(1.0,1.04)" text-anchor="middle" font-family="'Liberation Sans', Arial, sans-serif" font-size="37.2" fill="#000">70</text>
<text transform="translate(1837.40,1132.40) scale(1.0,1.04)" text-anchor="middle" font-family="'Liberation Sans', Arial, sans-serif" font-size="37.2" fill="#000">80</text>
<text transform="translate(1989.50,1132.40) scale(1.0,1.04)" text-anchor="middle" font-family="'Liberation Sans', Arial, sans-serif" font-size="37.2" fill="#000">90</text>
<text transform="translate(2141.60,1132.40) scale(1.0,1.04)" text-anchor="middle" font-family="'Liberation Sans', Arial, sans-serif" font-size="37.2" fill="#000">100</text>
</g>
<text transform="translate(1738.2,1213.9) scale(1,1.047)" font-size="53.5" fill="#000" font-family="'Liberation Sans', Arial, sans-serif"><tspan x="0" font-family="'Liberation Serif', 'Times New Roman', serif" textLength="34.3" lengthAdjust="spacingAndGlyphs">Γ</tspan><tspan x="30.1">t</tspan></text>
<text font-size="54.5" fill="#000" font-family="'Liberation Sans', Arial, sans-serif"><tspan x="1567.9" y="813.9">&lt;</tspan><tspan x="1599.0" y="815.8">|</tspan><tspan x="1613.0" y="815.8" font-family="'Liberation Serif', 'Times New Roman', serif" textLength="31.3" lengthAdjust="spacingAndGlyphs">β</tspan><tspan x="1642.1" y="815.8">|</tspan><tspan x="1655.6" y="793.9" font-size="37.5">2</tspan><tspan x="1675.9" y="813.9">&gt;</tspan></text>
</svg>
</body>
</html>
